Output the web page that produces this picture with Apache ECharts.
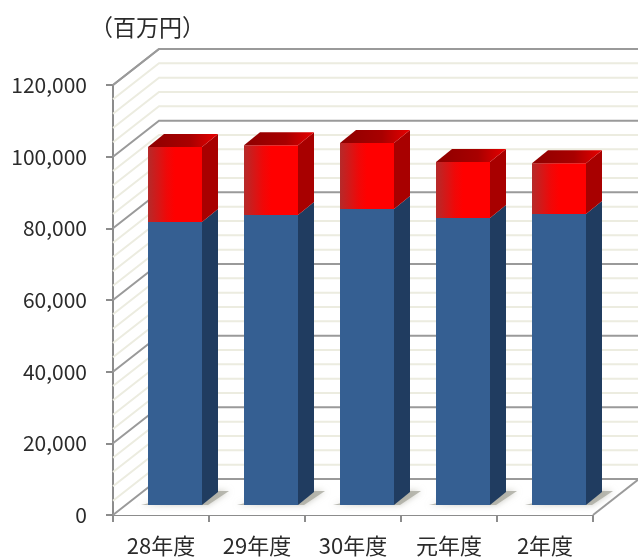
<!DOCTYPE html>
<html><head><meta charset="utf-8">
<style>html,body{margin:0;padding:0;background:#fff}#c{width:638px;height:558px;filter:blur(0.5px)}</style>
<script src="https://cdn.jsdelivr.net/npm/echarts@6/dist/echarts.min.js"></script>
</head><body><div id="c"></div>
<script>
const categories = ['28年度','29年度','30年度','元年度','2年度'];
const blueValues = [79000,80900,82600,80100,81200];
const redValues = [20900,19500,18400,15600,14200];
const minorTicks = [4000,8000,12000,16000,24000,28000,32000,36000,44000,48000,52000,56000,64000,68000,72000,76000,84000,88000,92000,96000,104000,108000,112000,116000];
const majorTicks = [0,20000,40000,60000,80000,100000,120000];
const unitLabel = '（百万円）';

const wallDx = 46, wallDy = -36;
const barDx = 16, barDy = -13, barW = 54, barShiftX = 14, barShiftY = -10;

const chart = echarts.init(document.getElementById('c'), null, {renderer:'canvas'});

function wallLine(color, width){
  return function(params, api){
    const cs = params.coordSys;
    const y = api.coord([0, api.value(1)])[1];
    const x0 = cs.x, x1 = cs.x + cs.width;
    return {type:'group', children:[
      {type:'polyline', shape:{points:[[x0,y],[x0+wallDx,y+wallDy],[x1+wallDx,y+wallDy]]},
       style:{stroke:color, lineWidth:width, fill:null}}
    ]};
  };
}
function floorItem(params, api){
  const cs = params.coordSys;
  const b = cs.y + cs.height, l = cs.x, r = cs.x + cs.width;
  return {type:'group', children:[
    {type:'polygon', shape:{points:[[l,b],[r,b],[r+wallDx,b+wallDy],[l+wallDx,b+wallDy]]}, style:{fill:'#ffffff'}},
    {type:'polyline', shape:{points:[[l,b],[l+wallDx,b+wallDy],[r+wallDx,b+wallDy]]}, style:{stroke:'#9a9a9a',lineWidth:2,fill:null}},
    {type:'line', shape:{x1:r,y1:b,x2:r+wallDx,y2:b+wallDy}, style:{stroke:'#9a9a9a',lineWidth:2}},
    {type:'line', shape:{x1:l,y1:cs.y,x2:l+wallDx,y2:cs.y+wallDy}, style:{stroke:'#9a9a9a',lineWidth:2}}
  ]};
}
function shadowItem(params, api){
  const c = api.coord([api.value(0), 0]);
  const x = c[0] + barShiftX - barW/2, y = c[1] + barShiftY;
  return {type:'polygon', shape:{points:[[x-7,y],[x+barW+6,y],[x+barW+27,y-14],[x+barW,y-14]]},
    style:{fill:'rgba(170,170,160,0.8)', shadowBlur:6, shadowColor:'rgba(170,170,160,0.8)'}};
}
function barItem(pal){
  return function(params, api){
    const i = api.value(0);
    const p0 = api.coord([i, api.value(1)]), p1 = api.coord([i, api.value(2)]);
    const x = p0[0] + barShiftX - barW/2, yb = p0[1] + barShiftY, yt = p1[1] + barShiftY, xr = x + barW;
    const kids = [
      {type:'polygon', shape:{points:[[xr,yb],[xr+barDx,yb+barDy],[xr+barDx,yt+barDy],[xr,yt]]}, style:{fill:pal.side}},
      {type:'rect', shape:{x:x,y:yt,width:barW,height:yb-yt}, style:{fill:pal.front}}
    ];
    if(pal.top){
      kids.push({type:'polygon', shape:{points:[[x,yt],[xr,yt],[xr+barDx,yt+barDy],[x+barDx,yt+barDy]]}, style:{fill:pal.top}});
    }
    return {type:'group', children:kids};
  };
}
const grad = (stops)=>new echarts.graphic.LinearGradient(0,0,1,0,stops);
const redPal = {
  front: grad([{offset:0,color:'#b52a2a'},{offset:0.35,color:'#f00808'},{offset:0.5,color:'#ff0000'},{offset:1,color:'#ff0000'}]),
  side: '#a80000',
  top: grad([{offset:0,color:'#8e0000'},{offset:0.6,color:'#a80000'},{offset:1,color:'#e80000'}])
};
const bluePal = {front:'#355f92', side:'#203c60', top:null};

chart.setOption({
  animation:false,
  backgroundColor:'#fff',
  title:{text:unitLabel,left:85,top:11,textStyle:{fontFamily:'Noto Sans CJK JP',fontSize:23,fontWeight:'normal',color:'#2b2b2b'}},
  grid:{left:113,right:45,top:85,bottom:43,containLabel:false},
  xAxis:{type:'category',data:categories,boundaryGap:true,
    axisLine:{show:true,lineStyle:{color:'#8c8c8c',width:2}},
    axisTick:{show:true,alignWithLabel:false,length:7,lineStyle:{color:'#8c8c8c',width:2}},
    axisLabel:{margin:20,fontFamily:'Noto Sans CJK JP',fontSize:22,color:'#2b2b2b',interval:0}},
  yAxis:{type:'value',min:0,max:120000,interval:20000,
    axisLine:{show:true,lineStyle:{color:'#8c8c8c',width:2}},
    axisTick:{show:true,length:7,lineStyle:{color:'#8c8c8c',width:2}},
    splitLine:{show:false},
    axisLabel:{margin:26,padding:[3,0,0,0],fontFamily:'Noto Sans CJK JP',fontSize:21,color:'#2b2b2b',
      formatter:v=>v.toLocaleString('en-US')}},
  series:[
    {type:'custom',silent:true,z:1,renderItem:floorItem,data:[[0,0]],encode:{x:0,y:1}},
    {type:'custom',silent:true,z:2,renderItem:wallLine('#ecece0',2),data:minorTicks.map(v=>[0,v]),encode:{x:0,y:1}},
    {type:'custom',silent:true,z:3,renderItem:wallLine('#9a9a9a',2),data:majorTicks.slice(1,-1).map(v=>[0,v]),encode:{x:0,y:1}},
    {type:'custom',silent:true,z:4,renderItem:wallLine('#9a9a9a',2),data:[[0,120000]],encode:{x:0,y:1}},
    {type:'custom',silent:true,z:5,renderItem:shadowItem,data:categories.map((c,i)=>[i,0]),encode:{x:0,y:1}},
    {type:'custom',name:'blue',z:6,renderItem:barItem(bluePal),
      data:categories.map((c,i)=>[i,0,blueValues[i]]),encode:{x:0,y:2}},
    {type:'custom',name:'red',z:7,renderItem:barItem(redPal),
      data:categories.map((c,i)=>[i,blueValues[i],blueValues[i]+redValues[i]]),encode:{x:0,y:2}}
  ]
});
</script></body></html>
